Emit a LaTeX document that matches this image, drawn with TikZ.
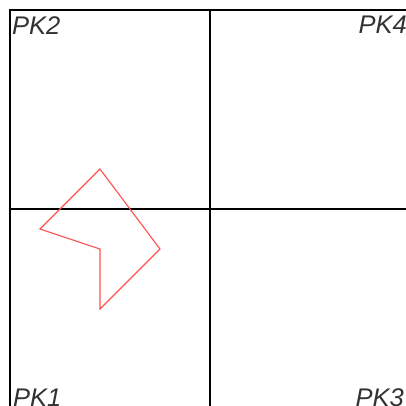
\documentclass[tikz,border=0pt]{standalone}
\usepackage{fontspec}
\setmainfont{Liberation Sans}
\usepackage{xcolor}
\usetikzlibrary{positioning}
\definecolor{polyred}{RGB}{255,80,80}
\definecolor{pkgray}{RGB}{50,50,50}

\begin{document}
\begin{tikzpicture}[
    x=1pt, y=-1pt,
    grid/.style={draw=black, line width=1.4pt},
    poly/.style={draw=polyred, line width=1.1pt, line join=miter},
    pklabel/.style={font=\itshape\fontsize{25.5}{25.5}\selectfont, text=pkgray, inner sep=0pt}
]
    \useasboundingbox (0,0) rectangle (406,405);
    \clip (0,0) rectangle (406,405);

    % Quadrant frame
    \draw[grid] (10,10) rectangle (410,410);
    \draw[grid] (210,10) -- (210,410);
    \draw[grid] (10,209) -- (410,209);

    % Polygon
    \draw[poly] (100,169) -- (160,249) -- (100,309) -- (100,249) -- (40,229) -- cycle;

    % Corner labels
    \node[pklabel, anchor=base west] (pk2) at (12,34) {PK2};
    \node[pklabel, anchor=base east] (pk4) at (407,33) {PK4};
    \node[pklabel, anchor=base west] (pk1) at (13,406) {PK1};
    \node[pklabel, anchor=base east] (pk3) at (404,406) {PK3};
\end{tikzpicture}
\end{document}
